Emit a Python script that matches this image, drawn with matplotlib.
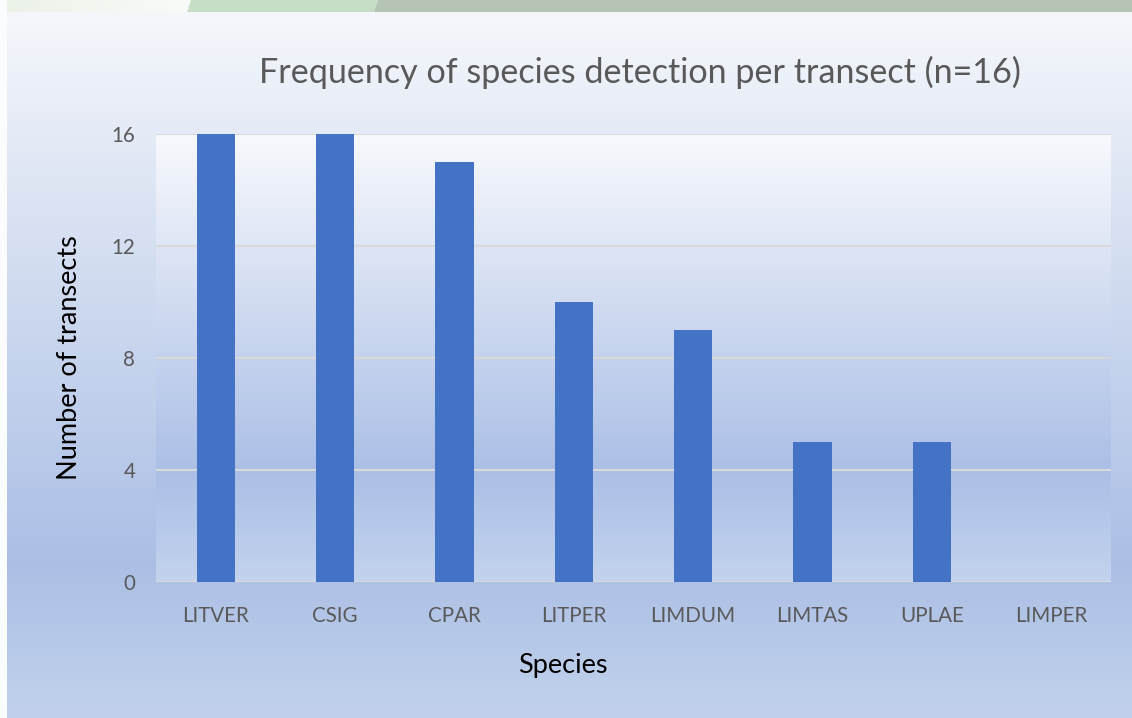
import numpy as np
import matplotlib.pyplot as plt
from matplotlib.colors import LinearSegmentedColormap
from matplotlib.patches import Polygon

species = ["LITVER", "CSIG", "CPAR", "LITPER", "LIMDUM", "LIMTAS", "UPLAE", "LIMPER"]
transects = [16, 16, 15, 10, 9, 5, 5, 0]
yticks = [0, 4, 8, 12, 16]

W, H = 1132, 718
fig = plt.figure(figsize=(W / 100, H / 100), dpi=100)
plt.rcParams['font.family'] = ['Lato', 'DejaVu Sans']

# background layer in pixel coordinates
bg = fig.add_axes([0, 0, 1, 1], zorder=0)
bg.set_xlim(0, W)
bg.set_ylim(H, 0)
bg.axis('off')

grad = LinearSegmentedColormap.from_list(
    "office", [(0, "#F5F7FB"), (0.78, "#ABBFE5"), (1, "#C2D2EC")])
col = np.linspace(0, 1, 256).reshape(-1, 1)
bg.imshow(col, cmap=grad, extent=[7, W, H, 12], aspect='auto', interpolation='bicubic')
bg.add_patch(plt.Rectangle((0, 0), 7, H, color="#FBFCFD", lw=0))

# top decoration strip
strip = LinearSegmentedColormap.from_list("strip", ["#EBF2E8", "#F9FBF8"])
bg.imshow(np.linspace(0, 1, 64).reshape(1, -1), cmap=strip,
          extent=[0, 192, 12, 0], aspect='auto')
bg.add_patch(Polygon([(187, 12), (191, 0), (378, 0), (374, 12)], closed=True,
                     color="#C6DDC6", lw=0))
bg.add_patch(Polygon([(374, 12), (378, 0), (W, 0), (W, 12)], closed=True,
                     color="#B5C4B3", lw=0))

# main axes
ax = fig.add_axes([156 / W, 1 - 582 / H, (1111 - 156) / W, (582 - 134) / H], zorder=1)
ax.patch.set_alpha(0)
pgrad = LinearSegmentedColormap.from_list(
    "plot", [(0, "#F8F9FD"), (0.75, "#ABBFE6"), (1, "#C3D3EE")])
ax.imshow(col, cmap=pgrad, extent=[0, 1, 0, 1], transform=ax.transAxes,
          aspect='auto', interpolation='bicubic', zorder=0)

x = np.arange(len(species))
ax.bar(x, transects, width=0.32, color="#4472C4", zorder=3)
ax.set_xlim(-0.5, len(species) - 0.5)
ax.set_ylim(0, 16)
ax.set_yticks(yticks)
ax.set_xticks(x)
ax.set_xticklabels(species)
ax.grid(axis='y', color="#D9D9D9", lw=1.5, zorder=1)
ax.set_axisbelow(True)
for s in ax.spines.values():
    s.set_visible(False)
ax.axhline(0, color="#D9D9D9", lw=1.5, zorder=2)
ax.tick_params(length=0, labelsize=14.8, colors="#595959")
ax.tick_params(axis='y', pad=15)
ax.tick_params(axis='x', pad=17)

ax.set_ylabel("Number of transects", fontsize=19.5, color="#000000", labelpad=21)
ax.set_xlabel("Species", fontsize=19.5, color="#000000", labelpad=20,
              x=(563 - 156) / (1111 - 156))
fig.text(640 / W, 1 - 72 / H, "Frequency of species detection per transect (n=16)",
         ha='center', va='center', fontsize=24.6, color="#595959")

fig.savefig("out.png", dpi=100)
